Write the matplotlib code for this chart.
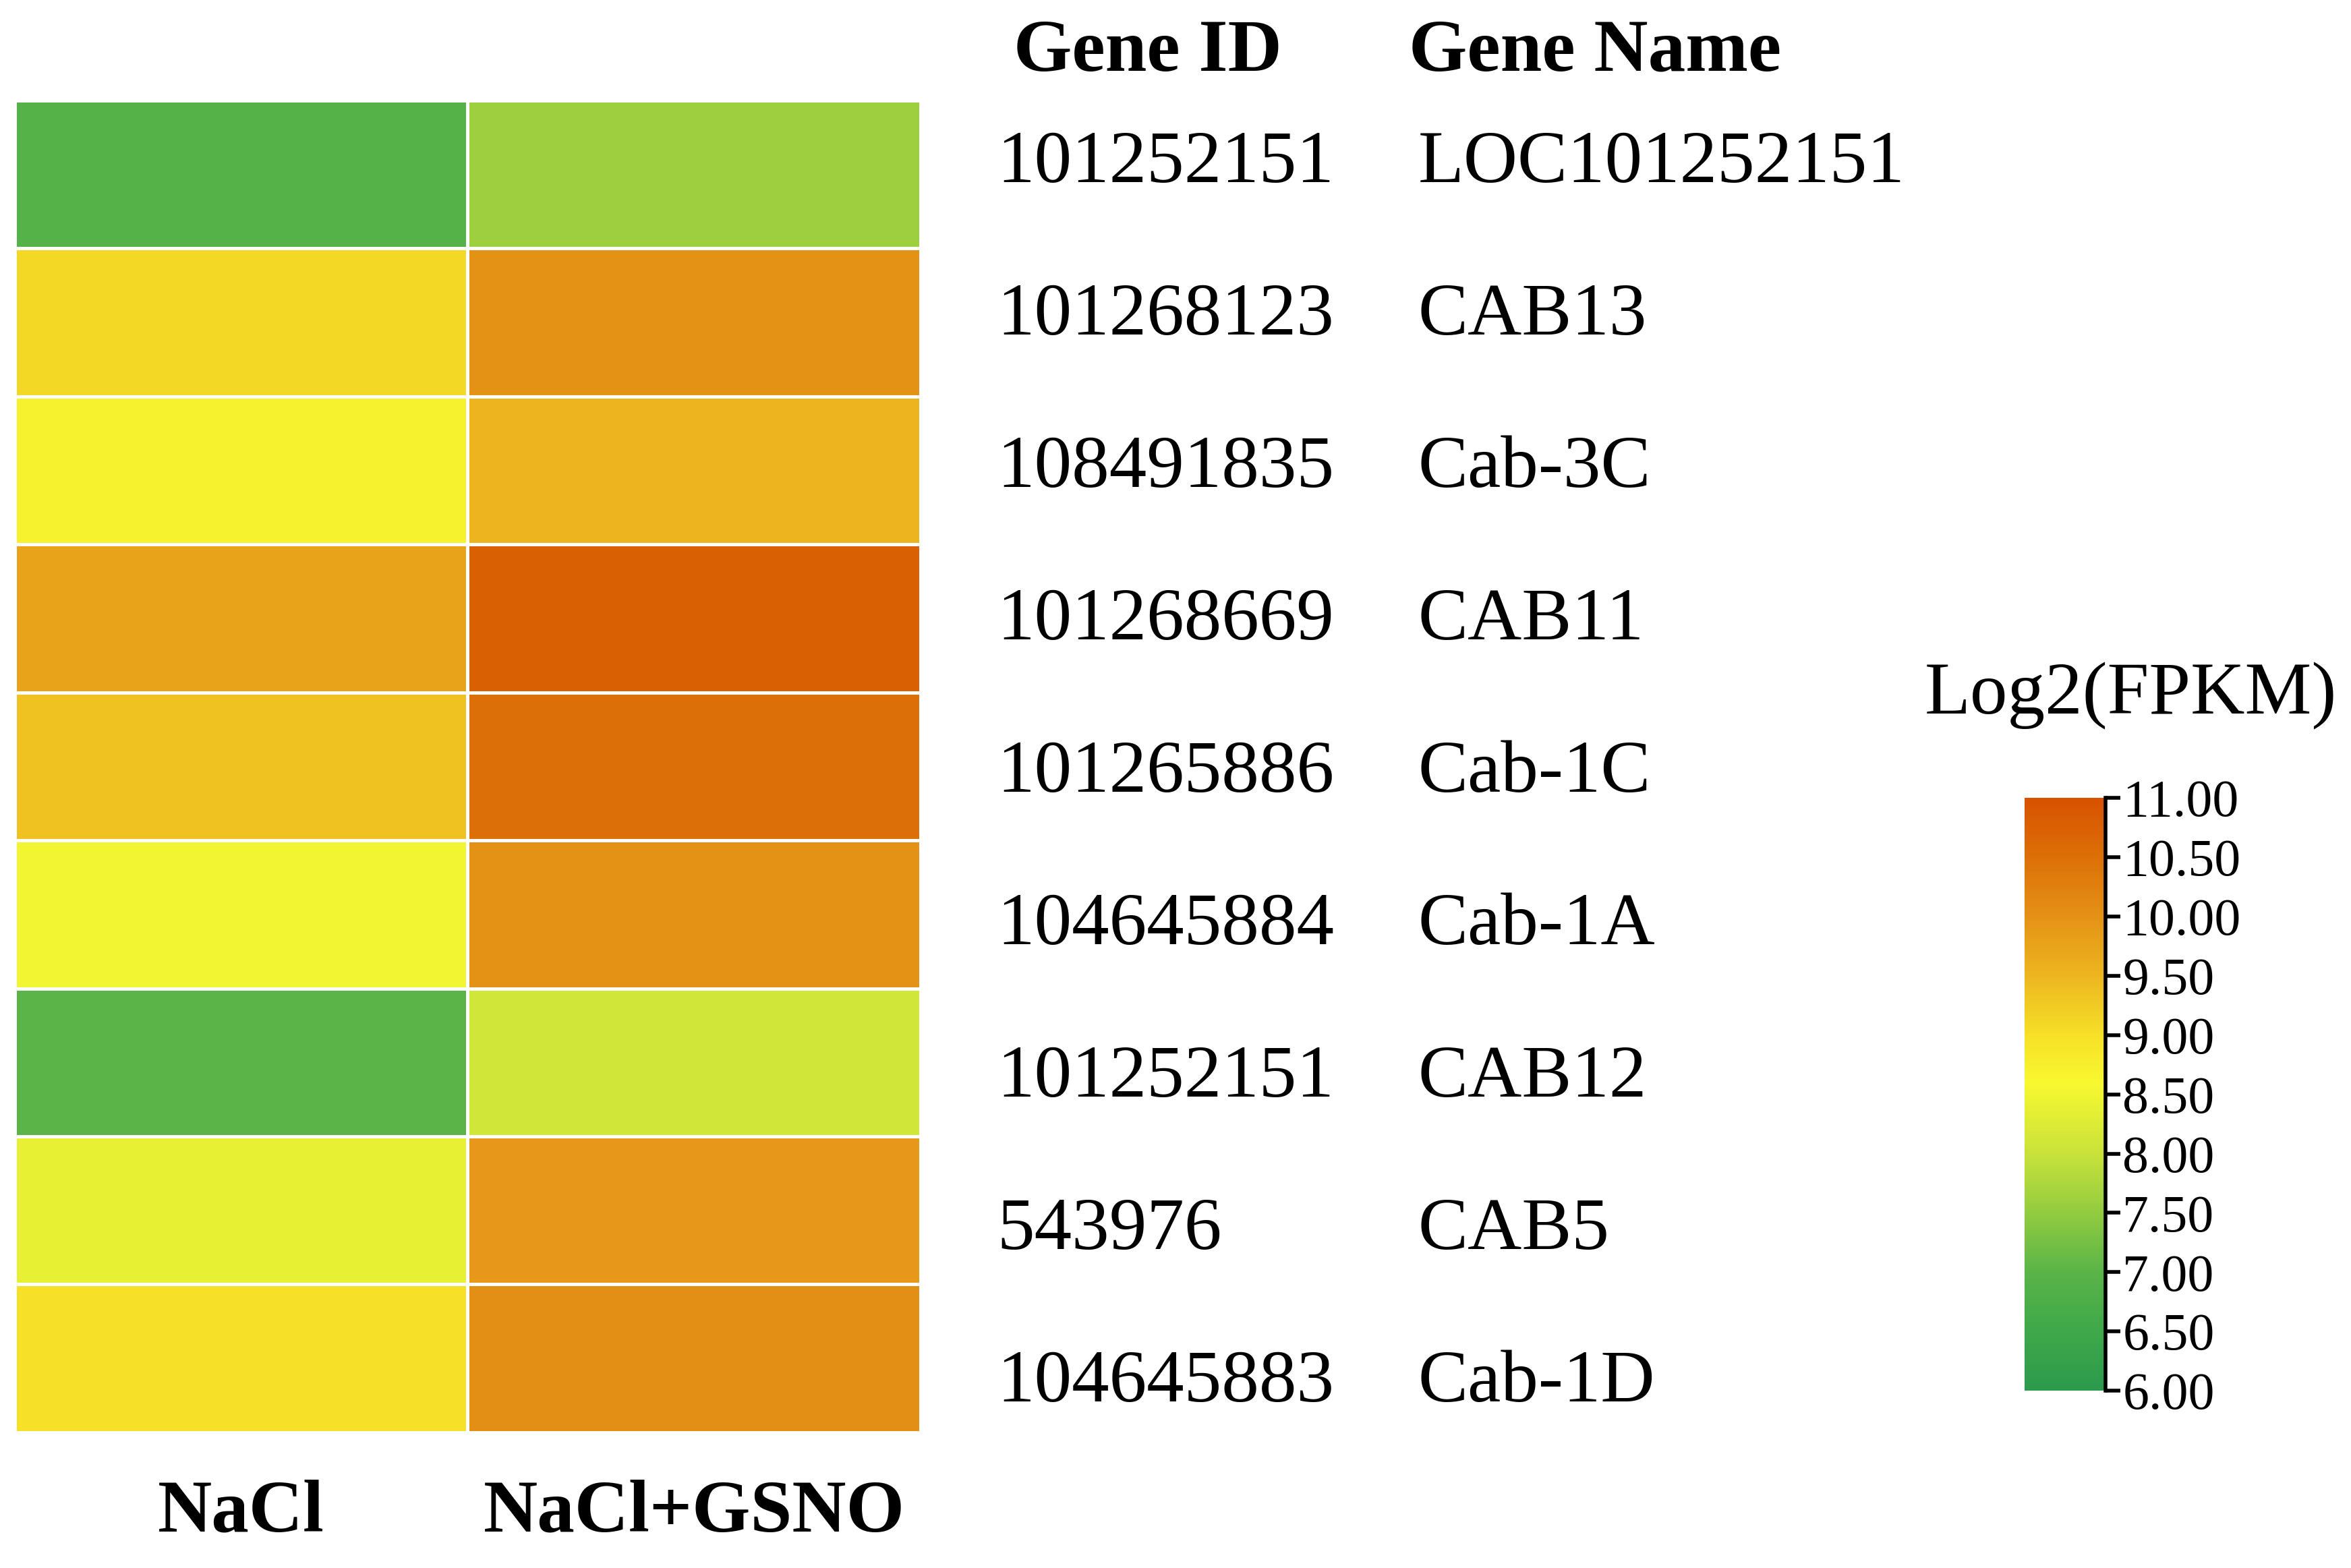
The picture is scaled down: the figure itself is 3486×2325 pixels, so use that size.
import numpy as np
import matplotlib
matplotlib.use("Agg")
import matplotlib.pyplot as plt
from matplotlib.colors import LinearSegmentedColormap, Normalize
from matplotlib.transforms import blended_transform_factory

# data
gene_ids = ["101252151", "101268123", "108491835", "101268669", "101265886",
            "104645884", "101252151", "543976", "104645883"]
gene_names = ["LOC101252151", "CAB13", "Cab-3C", "CAB11", "Cab-1C",
              "Cab-1A", "CAB12", "CAB5", "Cab-1D"]
conditions = ["NaCl", "NaCl+GSNO"]
nacl = [6.9, 9.1, 8.7, 9.75, 9.35, 8.5, 7.0, 8.4, 9.0]
nacl_gsno = [7.6, 10.0, 9.5, 10.75, 10.5, 10.0, 8.1, 9.9, 10.05]
cbar_ticks = [6.0, 6.5, 7.0, 7.5, 8.0, 8.5, 9.0, 9.5, 10.0, 10.5, 11.0]

plt.rcParams["font.family"] = ["Liberation Serif", "DejaVu Serif"]

# colour scale
vmin, vmax = 6.0, 11.0
anchors = [(6.0, "#2b9a4c"), (6.5, "#3fa84a"), (7.0, "#5ab448"), (7.5, "#92cc40"),
           (8.0, "#c8e23a"), (8.6, "#f8f830"), (9.0, "#f6e028"), (9.5, "#ecb620"),
           (10.0, "#e49216"), (10.5, "#dc7008"), (11.0, "#d85200")]
cmap = LinearSegmentedColormap.from_list(
    "fpkm", [((v - vmin) / (vmax - vmin), c) for v, c in anchors])
norm = Normalize(vmin, vmax)

values = np.column_stack([nacl, nacl_gsno])
n = len(gene_ids)

fig = plt.figure(figsize=(34.87, 23.25), dpi=100)

# heatmap
ax = fig.add_axes([0.0063, 0.0865, 0.3851, 0.8495])
mesh = ax.pcolormesh(values, cmap=cmap, norm=norm, edgecolors="white", linewidth=3.5)
ax.set_xlim(0, 2)
ax.set_ylim(n, 0)
for s in ax.spines.values():
    s.set_visible(False)
ax.set_yticks([])
ax.set_xticks(np.arange(len(conditions)) + 0.5)
ax.set_xticklabels(conditions, fontsize=80, fontweight="bold")
ax.tick_params(axis="x", length=0, pad=50)

# gene id / name columns
lab = fig.add_axes([0, 0.069, 1, 0.875])
lab.axis("off")
lab.set_xlim(0, 1)
lab.set_ylim(n, 0)
tr = blended_transform_factory(fig.transFigure, lab.transData)
for i, (gid, name) in enumerate(zip(gene_ids, gene_names)):
    lab.text(0.424, i + 0.5, gid, transform=tr, fontsize=80, va="center", ha="left")
    lab.text(0.603, i + 0.5, name, transform=tr, fontsize=80, va="center", ha="left")

fig.text(0.431, 0.9665, "Gene ID", fontsize=80, fontweight="bold", va="center", ha="left")
fig.text(0.599, 0.9665, "Gene Name", fontsize=80, fontweight="bold", va="center", ha="left")

# colour bar
cax = fig.add_axes([0.861, 0.1131, 0.0344, 0.378])
cbar = fig.colorbar(mesh, cax=cax, ticks=cbar_ticks)
cbar.outline.set_visible(False)
cbar.ax.set_yticklabels([f"{t:.2f}" for t in cbar_ticks])
cbar.ax.tick_params(labelsize=56, length=16, width=4, pad=2, color="black")
cax.plot([1, 1], [0, 1], transform=cax.transAxes, color="black", lw=4, clip_on=False)
fig.text(0.906, 0.556, "Log2(FPKM)", fontsize=80, va="center", ha="center")

fig.savefig("out.png", dpi=100, facecolor="white")
